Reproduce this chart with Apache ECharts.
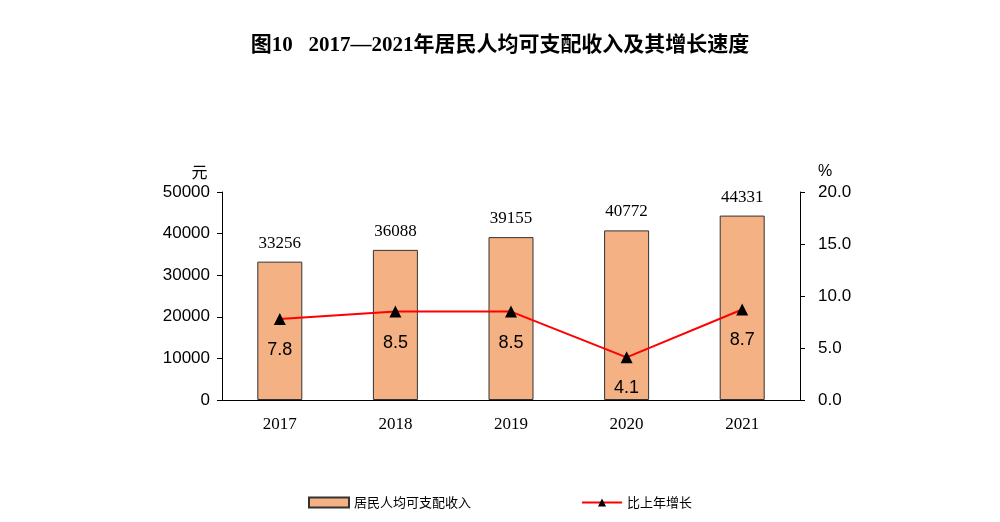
<!DOCTYPE html>
<html>
<head>
<meta charset="utf-8">
<script src="https://cdn.jsdelivr.net/npm/echarts@6/dist/echarts.min.js"></script>
<style>html,body{margin:0;padding:0;background:#fff}#main{width:1000px;height:522px}</style>
</head>
<body>
<div id="main"></div>
<script>
// 年份
var years = ['2017', '2018', '2019', '2020', '2021'];
// 居民人均可支配收入（元）
var income = [33256, 36088, 39155, 40772, 44331];
// 比上年增长（%）
var growth = [7.8, 8.5, 8.5, 4.1, 8.7];

var chart = echarts.init(document.getElementById('main'));
var option = {
    backgroundColor: '#fff',
    title: {
        text: '图10   2017—2021年居民人均可支配收入及其增长速度',
        left: 'center',
        top: 30,
        textStyle: { fontFamily: 'Liberation Serif, Noto Sans CJK SC', fontSize: 21, fontWeight: 'bold', color: '#000' }
    },
    legend: {
        bottom: 8,
        itemGap: 110,
        textStyle: { fontFamily: 'Noto Sans CJK SC', fontSize: 13, color: '#000' },
        data: [
            { name: '居民人均可支配收入', icon: 'rect' },
            { name: '比上年增长' }
        ],
        itemWidth: 40,
        itemHeight: 10
    },
    grid: { left: 222, right: 200, top: 192, bottom: 122 },
    xAxis: {
        type: 'category',
        data: years,
        axisLine: { lineStyle: { color: '#000' } },
        axisTick: { show: false },
        axisLabel: { fontFamily: 'Liberation Serif', fontSize: 17, color: '#000', margin: 16 }
    },
    yAxis: [{
        type: 'value', min: 0, max: 50000, interval: 10000,
        name: '元', nameGap: 12,
        nameTextStyle: { fontFamily: 'Noto Sans CJK SC', fontSize: 16, color: '#000', padding: [0, 45, 0, 0] },
        axisLine: { show: true, lineStyle: { color: '#000' } },
        axisTick: { show: true },
        splitLine: { show: false },
        axisLabel: {
            fontFamily: 'Liberation Sans', fontSize: 17, color: '#000', margin: 12,
            formatter: function (v) { return String(v); }
        }
    }, {
        type: 'value', min: 0, max: 20, interval: 5,
        name: '%', nameGap: 12,
        nameTextStyle: { fontFamily: 'Liberation Sans', fontSize: 16, color: '#000', padding: [0, 0, 0, 50] },
        axisLine: { show: true, lineStyle: { color: '#000' } },
        axisTick: { show: true },
        splitLine: { show: false },
        axisLabel: {
            fontFamily: 'Liberation Sans', fontSize: 17, color: '#000', margin: 18,
            formatter: function (v) { return v.toFixed(1); }
        }
    }],
    series: [{
        name: '居民人均可支配收入',
        type: 'bar',
        data: income,
        barWidth: 45,
        itemStyle: { color: '#F4B183', borderColor: '#333', borderWidth: 1 },
        label: {
            show: true, position: 'top', distance: 10,
            fontFamily: 'Liberation Serif', fontSize: 17, color: '#000'
        }
    }, {
        name: '比上年增长',
        type: 'line',
        yAxisIndex: 1,
        data: growth,
        symbol: 'triangle',
        symbolSize: 12,
        lineStyle: { color: '#FF0000', width: 2 },
        itemStyle: { color: '#000' },
        label: {
            show: true, position: 'bottom', distance: 16,
            fontFamily: 'Liberation Sans', fontSize: 18, color: '#000'
        }
    }]
};
chart.setOption(option);
</script>
</body>
</html>
